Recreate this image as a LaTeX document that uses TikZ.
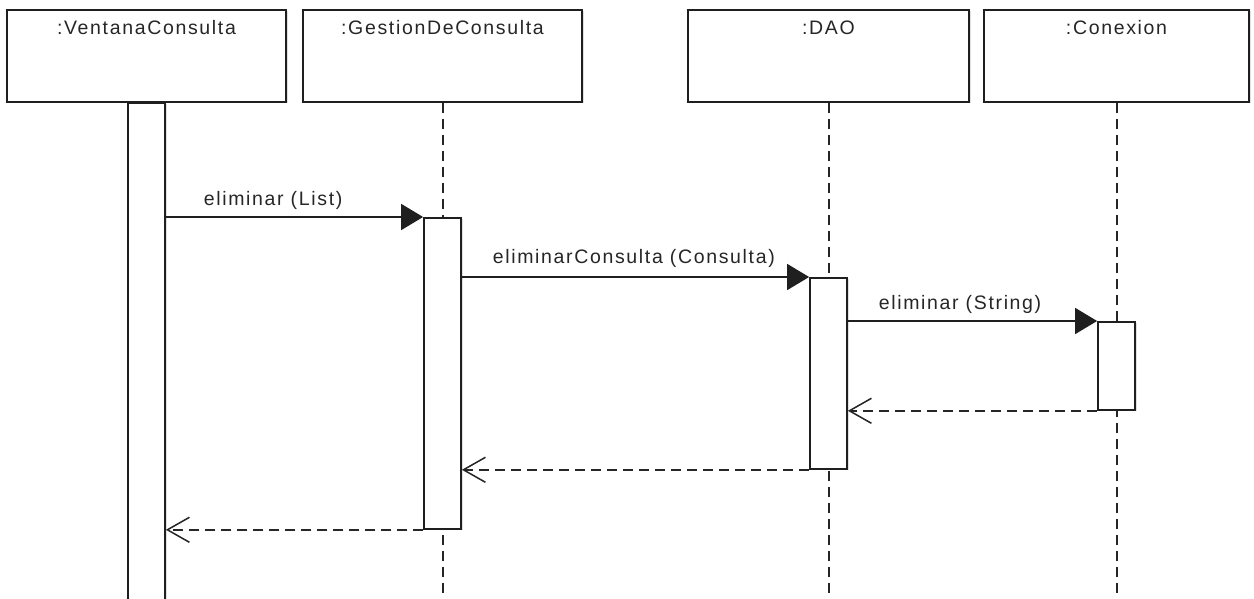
\documentclass[tikz,border=0pt]{standalone}
\usepackage{fontspec}
\newfontfamily\umlfont{Liberation Sans}[LetterSpace=8.5]
\usetikzlibrary{arrows.meta,shadows}

\tikzset{
  ink/.style={draw=black!88, line width=1.8pt},
  head/.style={ink, rectangle, fill=white, inner sep=0pt,
    minimum width=#1, minimum height=92pt,
    drop shadow={shadow xshift=1.5pt, shadow yshift=-1.5pt, opacity=0.25}},
  headtext/.style={anchor=north, inner sep=0pt, yshift=-11.5pt, text=black!85,
    font=\umlfont\fontsize{19.5}{22}\selectfont},
  bar/.style={ink, rectangle, fill=white, inner sep=0pt, anchor=north,
    minimum width=37pt, minimum height=#1,
    drop shadow={shadow xshift=1.5pt, shadow yshift=-1.5pt, opacity=0.25}},
  lifeline/.style={draw=black!85, line width=2pt, dash pattern=on 10pt off 6pt},
  msgtext/.style={anchor=base west, inner sep=0pt, text=black!85,
    font=\umlfont\fontsize{19.5}{22}\selectfont},
  call/.style={ink, -{Triangle[length=22pt,width=26pt]}},
  reply/.style={draw=black!85, line width=2pt, dash pattern=on 10pt off 6pt,
    -{Straight Barb[length=22pt,width=25pt,line width=1.5pt]}},
}

\begin{document}
\begin{tikzpicture}[x=1pt, y=-1pt]
  \useasboundingbox[fill=white] (0,0) rectangle (1254,599);

  % object heads
  \node[head=279pt, label={[headtext]north::VentanaConsulta}]   (vc)  at (146.5,56) {};
  \node[head=279pt, label={[headtext]north::GestionDeConsulta}] (gc)  at (442.5,56) {};
  \node[head=281pt, label={[headtext]north::DAO}]               (dao) at (828.5,56) {};
  \node[head=265pt, label={[headtext]north::Conexion}]          (cx)  at (1116.5,56) {};

  % lifeline ends at the bottom edge
  \coordinate (gcend)  at (442.5,604);
  \coordinate (daoend) at (828.5,604);
  \coordinate (cxend)  at (1116.5,604);

  % dashed lifelines (drawn first, bars sit on top)
  \draw[lifeline] (gc.south)  -- (gcend);
  \draw[lifeline] (dao.south) -- (daoend);
  \draw[lifeline] (cx.south)  -- (cxend);

  % activation bars
  \node[bar=502pt] (vcbar)  at (146.5,102) {};
  \node[bar=311pt] (gcbar)  at (442.5,217) {};
  \node[bar=191pt] (daobar) at (828.5,277) {};
  \node[bar=88pt]  (cxbar)  at (1116.5,321) {};

  % calls
  \draw[call] (vcbar.east |- gcbar.north west) -- (gcbar.north west)
    node[msgtext, pos=0, xshift=37pt, yshift=12pt] (m1) {eliminar (List)};
  \draw[call] (gcbar.east |- daobar.north west) -- (daobar.north west)
    node[msgtext, pos=0, xshift=30pt, yshift=14pt] (m2) {eliminarConsulta (Consulta)};
  \draw[call] (daobar.east |- cxbar.north west) -- (cxbar.north west)
    node[msgtext, pos=0, xshift=30pt, yshift=12pt] (m3) {eliminar (String)};

  % replies
  \draw[reply] (cxbar.south west)  -- (daobar.east |- cxbar.south west);
  \draw[reply] (daobar.south west) -- (gcbar.east |- daobar.south west);
  \draw[reply] (gcbar.south west)  -- (vcbar.east |- gcbar.south west);
\end{tikzpicture}
\end{document}
